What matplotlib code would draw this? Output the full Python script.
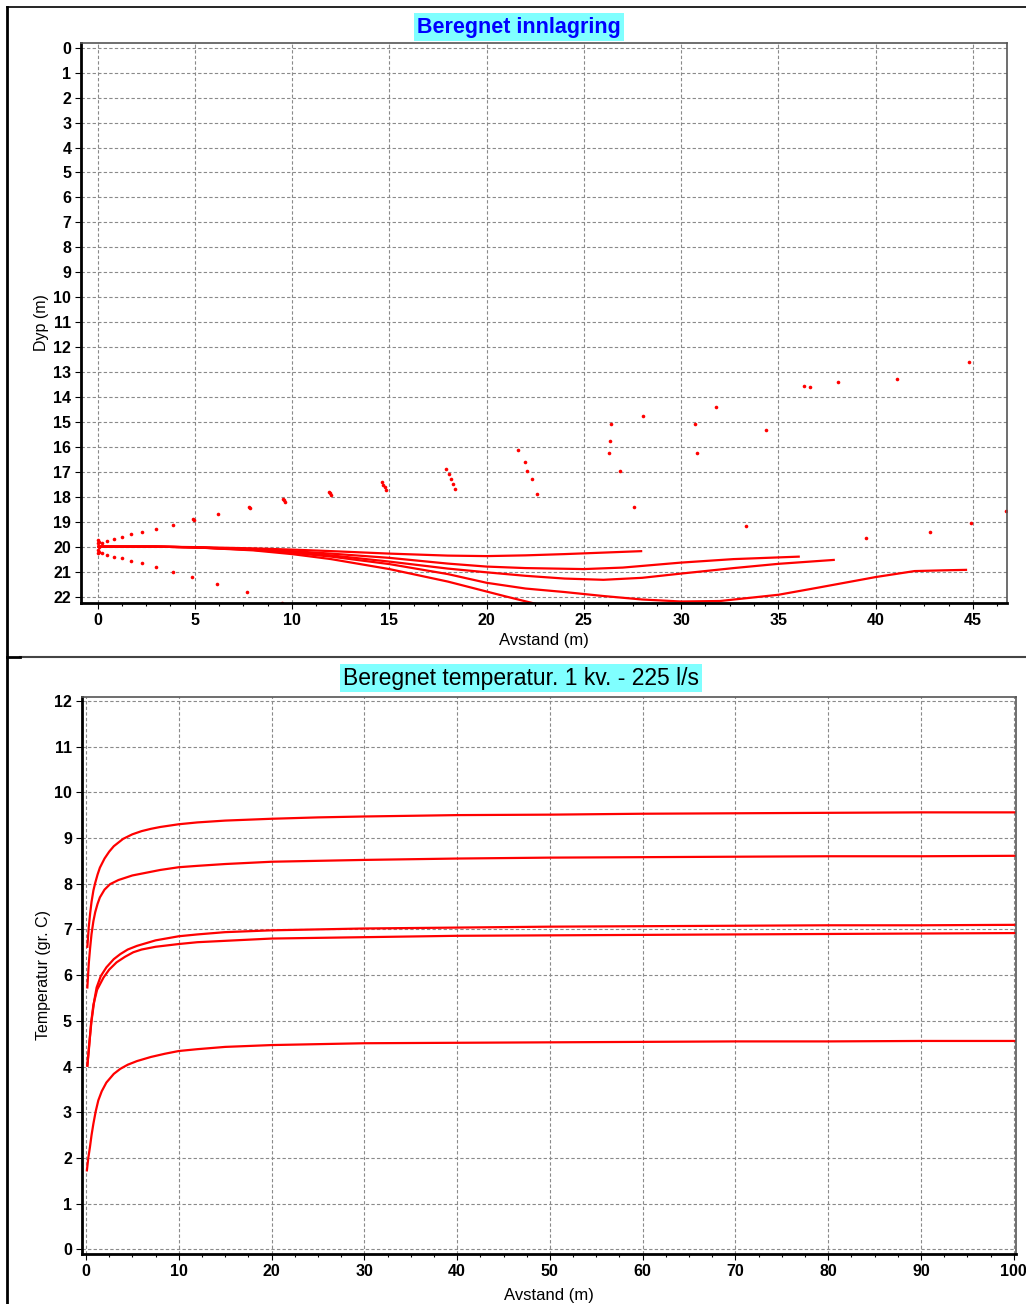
import numpy as np
import matplotlib
matplotlib.use("Agg")
import matplotlib.pyplot as plt
from matplotlib.lines import Line2D
from matplotlib.ticker import MultipleLocator

plt.rcParams['font.family'] = ['Liberation Sans', 'DejaVu Sans']

# ---- top panel: plume centre lines (distance m, depth m)
l1_x = [0, 3, 5, 8, 10, 12, 15, 18, 20, 22, 24, 26, 28]
l1_d = [20, 20, 20.02, 20.07, 20.12, 20.18, 20.28, 20.36, 20.38, 20.35, 20.3, 20.24, 20.18]
l2_x = [0, 3, 5, 8, 10, 12, 15, 18, 20, 22, 25, 27, 30, 32.7, 36.1]
l2_d = [20, 20, 20.03, 20.1, 20.18, 20.28, 20.45, 20.68, 20.8, 20.86, 20.9, 20.84, 20.64, 20.5, 20.4]
l3_x = [0, 3, 5, 8, 10, 12, 15, 18, 20, 22, 24, 26, 28, 30, 32.7, 35, 37.9]
l3_d = [20, 20, 20.03, 20.12, 20.22, 20.35, 20.6, 20.88, 21.03, 21.17, 21.28, 21.33, 21.25, 21.08, 20.86, 20.69, 20.53]
l4_x = [0, 3, 5, 8, 10, 12, 15, 18, 20, 22, 24, 26, 28, 30, 32, 35, 37, 40, 42, 43.5, 44.7]
l4_d = [20, 20, 20.03, 20.13, 20.25, 20.4, 20.7, 21.1, 21.45, 21.68, 21.82, 21.98, 22.12, 22.2, 22.18, 21.93, 21.65, 21.22, 20.98, 20.95, 20.93]
l5_x = [0, 3, 5, 8, 10, 12, 15, 18, 20, 21, 22.4, 23]
l5_d = [20, 20, 20.03, 20.15, 20.3, 20.5, 20.9, 21.4, 21.8, 22.0, 22.27, 22.4]
top_lines = [(l1_x, l1_d), (l2_x, l2_d), (l3_x, l3_d), (l4_x, l4_d), (l5_x, l5_d)]

# scattered plume edge points
pt_x = [0.0, 0.0, 0.05, 0.0, 0.0,
        0.07, 0.24, 0.5, 0.84, 1.24, 1.74, 2.3, 3.02, 3.88, 4.93, 4.98, 6.2, 7.77, 7.82,
        9.55, 9.6, 9.65, 11.9, 11.95, 12.0, 14.6, 14.68, 14.76, 14.84,
        17.92, 18.05, 18.15, 18.25, 18.38, 21.63, 21.98, 22.1, 22.32, 22.58,
        0.07, 0.24, 0.5, 0.84, 1.24, 1.74, 2.3, 3.02, 3.88, 4.88, 6.12, 7.66, 9.47,
        26.39, 26.32, 26.27, 26.84, 27.56, 28.06, 30.7, 30.82, 31.79, 33.32, 34.35,
        36.32, 36.61, 38.04, 39.5, 41.1, 42.78, 44.78, 44.88, 46.72]
pt_y = [19.75, 19.85, 20.0, 20.15, 20.25,
        19.83, 19.87, 19.76, 19.69, 19.6, 19.49, 19.42, 19.29, 19.12, 18.9, 18.95, 18.71, 18.42, 18.47,
        18.08, 18.15, 18.22, 17.8, 17.87, 17.93, 17.42, 17.52, 17.62, 17.72,
        16.88, 17.08, 17.28, 17.48, 17.7, 16.12, 16.61, 16.95, 17.28, 17.88,
        20.23, 20.27, 20.32, 20.4, 20.46, 20.56, 20.67, 20.83, 21.03, 21.23, 21.5, 21.83, 22.24,
        15.07, 15.77, 16.24, 16.95, 18.42, 14.77, 15.1, 16.25, 14.42, 19.16, 15.33,
        13.55, 13.6, 13.39, 19.65, 13.28, 19.42, 12.6, 19.06, 18.58]

# ---- bottom panel: temperature along distance
c1_x = [0.15, 0.3, 0.45, 0.6, 0.8, 1.0, 1.25, 1.5, 2, 2.5, 3, 4, 5, 6, 7, 8, 10, 12, 15, 20, 25, 30, 40, 50, 60, 70, 80, 90, 100.2]
c1_t = [6.62, 7.05, 7.35, 7.6, 7.85, 8.02, 8.2, 8.35, 8.55, 8.7, 8.82, 8.98, 9.08, 9.15, 9.2, 9.24, 9.3, 9.34, 9.38, 9.42, 9.45, 9.47, 9.5, 9.51, 9.53, 9.54, 9.55, 9.56, 9.56]
c2_x = [0.15, 0.3, 0.45, 0.6, 0.8, 1.0, 1.25, 1.5, 2, 2.6, 3.5, 4.4, 5, 6, 8, 10, 12, 15, 20, 30, 40, 50, 60, 70, 80, 90, 100.2]
c2_t = [5.73, 6.25, 6.6, 6.9, 7.18, 7.38, 7.56, 7.7, 7.87, 7.99, 8.08, 8.14, 8.18, 8.22, 8.3, 8.36, 8.39, 8.43, 8.48, 8.52, 8.55, 8.57, 8.58, 8.59, 8.6, 8.6, 8.61]
c3_x = [0.15, 0.35, 0.6, 0.9, 1.15, 1.6, 2.2, 3, 3.7, 4.5, 5.5, 7.5, 10, 12, 15, 20, 30, 40, 50, 60, 70, 80, 90, 100.2]
c3_t = [4.02, 4.5, 5.0, 5.45, 5.73, 5.98, 6.17, 6.35, 6.46, 6.56, 6.64, 6.76, 6.85, 6.89, 6.94, 6.98, 7.02, 7.04, 7.06, 7.07, 7.08, 7.09, 7.09, 7.1]
c4_x = [0.15, 0.35, 0.55, 0.8, 1.2, 1.9, 2.5, 3.3, 4.2, 5.1, 6, 7.5, 10, 12, 15, 20, 30, 40, 50, 60, 70, 80, 90, 100.2]
c4_t = [4.02, 4.45, 4.95, 5.35, 5.68, 5.95, 6.12, 6.28, 6.4, 6.5, 6.56, 6.62, 6.68, 6.72, 6.75, 6.8, 6.83, 6.86, 6.87, 6.88, 6.89, 6.9, 6.91, 6.92]
c5_x = [0.1, 0.25, 0.43, 0.6, 0.8, 1.05, 1.33, 1.7, 2.2, 3.0, 3.7, 4.5, 5.5, 7, 8.5, 10, 12, 15, 20, 30, 40, 50, 60, 70, 80, 90, 100.2]
c5_t = [1.73, 2.0, 2.24, 2.5, 2.75, 3.02, 3.26, 3.46, 3.65, 3.84, 3.95, 4.04, 4.12, 4.21, 4.28, 4.34, 4.38, 4.43, 4.47, 4.51, 4.52, 4.53, 4.54, 4.55, 4.55, 4.56, 4.56]
bottom_lines = [(c1_x, c1_t), (c2_x, c2_t), (c3_x, c3_t), (c4_x, c4_t), (c5_x, c5_t)]

W, H = 1026, 1304
fig = plt.figure(figsize=(W / 100, H / 100), dpi=100)


def style_axes(ax):
    ax.grid(True, which='major', color='#8a8a8a', linestyle=(0, (3, 2)), linewidth=0.8)
    ax.set_axisbelow(True)
    for s in ('left', 'bottom'):
        ax.spines[s].set_linewidth(2.0)
        ax.spines[s].set_color('black')
    for s in ('top', 'right'):
        ax.spines[s].set_linewidth(1.2)
        ax.spines[s].set_color('#555555')
    ax.tick_params(which='major', direction='out', length=4, width=0.8, labelsize=11.5, pad=3)
    ax.tick_params(which='minor', direction='out', length=2.5, width=0.8)
    for lab in ax.get_xticklabels() + ax.get_yticklabels():
        lab.set_fontweight('bold')


def px_axes(l, t, r, b):
    return fig.add_axes([l / W, 1 - b / H, (r - l) / W, (b - t) / H])


# top panel
ax1 = px_axes(81, 43, 1007, 603)
for xs, ds in top_lines:
    ax1.plot(xs, ds, color='#ff0000', lw=1.6, solid_capstyle='butt')
ax1.plot(pt_x, pt_y, 'o', color='#ff0000', ms=2.6, mew=0, ls='none')
ax1.set_xlim(-0.85, 46.75)
ax1.set_ylim(22.26, -0.19)
ax1.set_xticks(np.arange(0, 46, 5))
ax1.xaxis.set_minor_locator(MultipleLocator(1.25))
ax1.set_yticks(np.arange(0, 23, 1))
style_axes(ax1)
ax1.set_xlabel('Avstand (m)', fontsize=12, labelpad=4)
ax1.set_ylabel('Dyp (m)', fontsize=11.5, labelpad=3)

# bottom panel
ax2 = px_axes(81.7, 696.7, 1015.7, 1254)
for xs, ts in bottom_lines:
    ax2.plot(xs, ts, color='#ff0000', lw=1.6)
ax2.set_xlim(-0.46, 100.2)
ax2.set_ylim(-0.1, 12.09)
ax2.set_xticks(np.arange(0, 101, 10))
ax2.xaxis.set_minor_locator(MultipleLocator(2.5))
ax2.set_yticks(np.arange(0, 13, 1))
style_axes(ax2)
ax2.set_xlabel('Avstand (m)', fontsize=12, labelpad=7)
ax2.set_ylabel('Temperatur (gr. C)', fontsize=11.5, labelpad=2)

# titles with cyan boxes
fig.text(519 / W, 1 - 27 / H, 'Beregnet innlagring', ha='center', va='center',
         fontsize=15.5, fontweight='bold', color='#0000ff',
         bbox=dict(boxstyle='square,pad=0.15', fc='#80ffff', ec='none'))
fig.text(521 / W, 1 - 678 / H, 'Beregnet temperatur. 1 kv. - 225 l/s', ha='center', va='center',
         fontsize=16.5, color='black',
         bbox=dict(boxstyle='square,pad=0.12', fc='#80ffff', ec='none'))

# panel borders
fig.add_artist(Line2D([7 / W, 7 / W], [0, 1 - 7 / H], transform=fig.transFigure, color='black', lw=2))
fig.add_artist(Line2D([7 / W, 1], [1 - 7 / H, 1 - 7 / H], transform=fig.transFigure, color='black', lw=1.2))
fig.add_artist(Line2D([20 / W, 1], [1 - 657 / H, 1 - 657 / H], transform=fig.transFigure, color='#444444', lw=1.5))
fig.add_artist(Line2D([7 / W, 20 / W], [1 - 657 / H, 1 - 657 / H], transform=fig.transFigure, color='black', lw=2))

fig.savefig('out.png', dpi=100)
